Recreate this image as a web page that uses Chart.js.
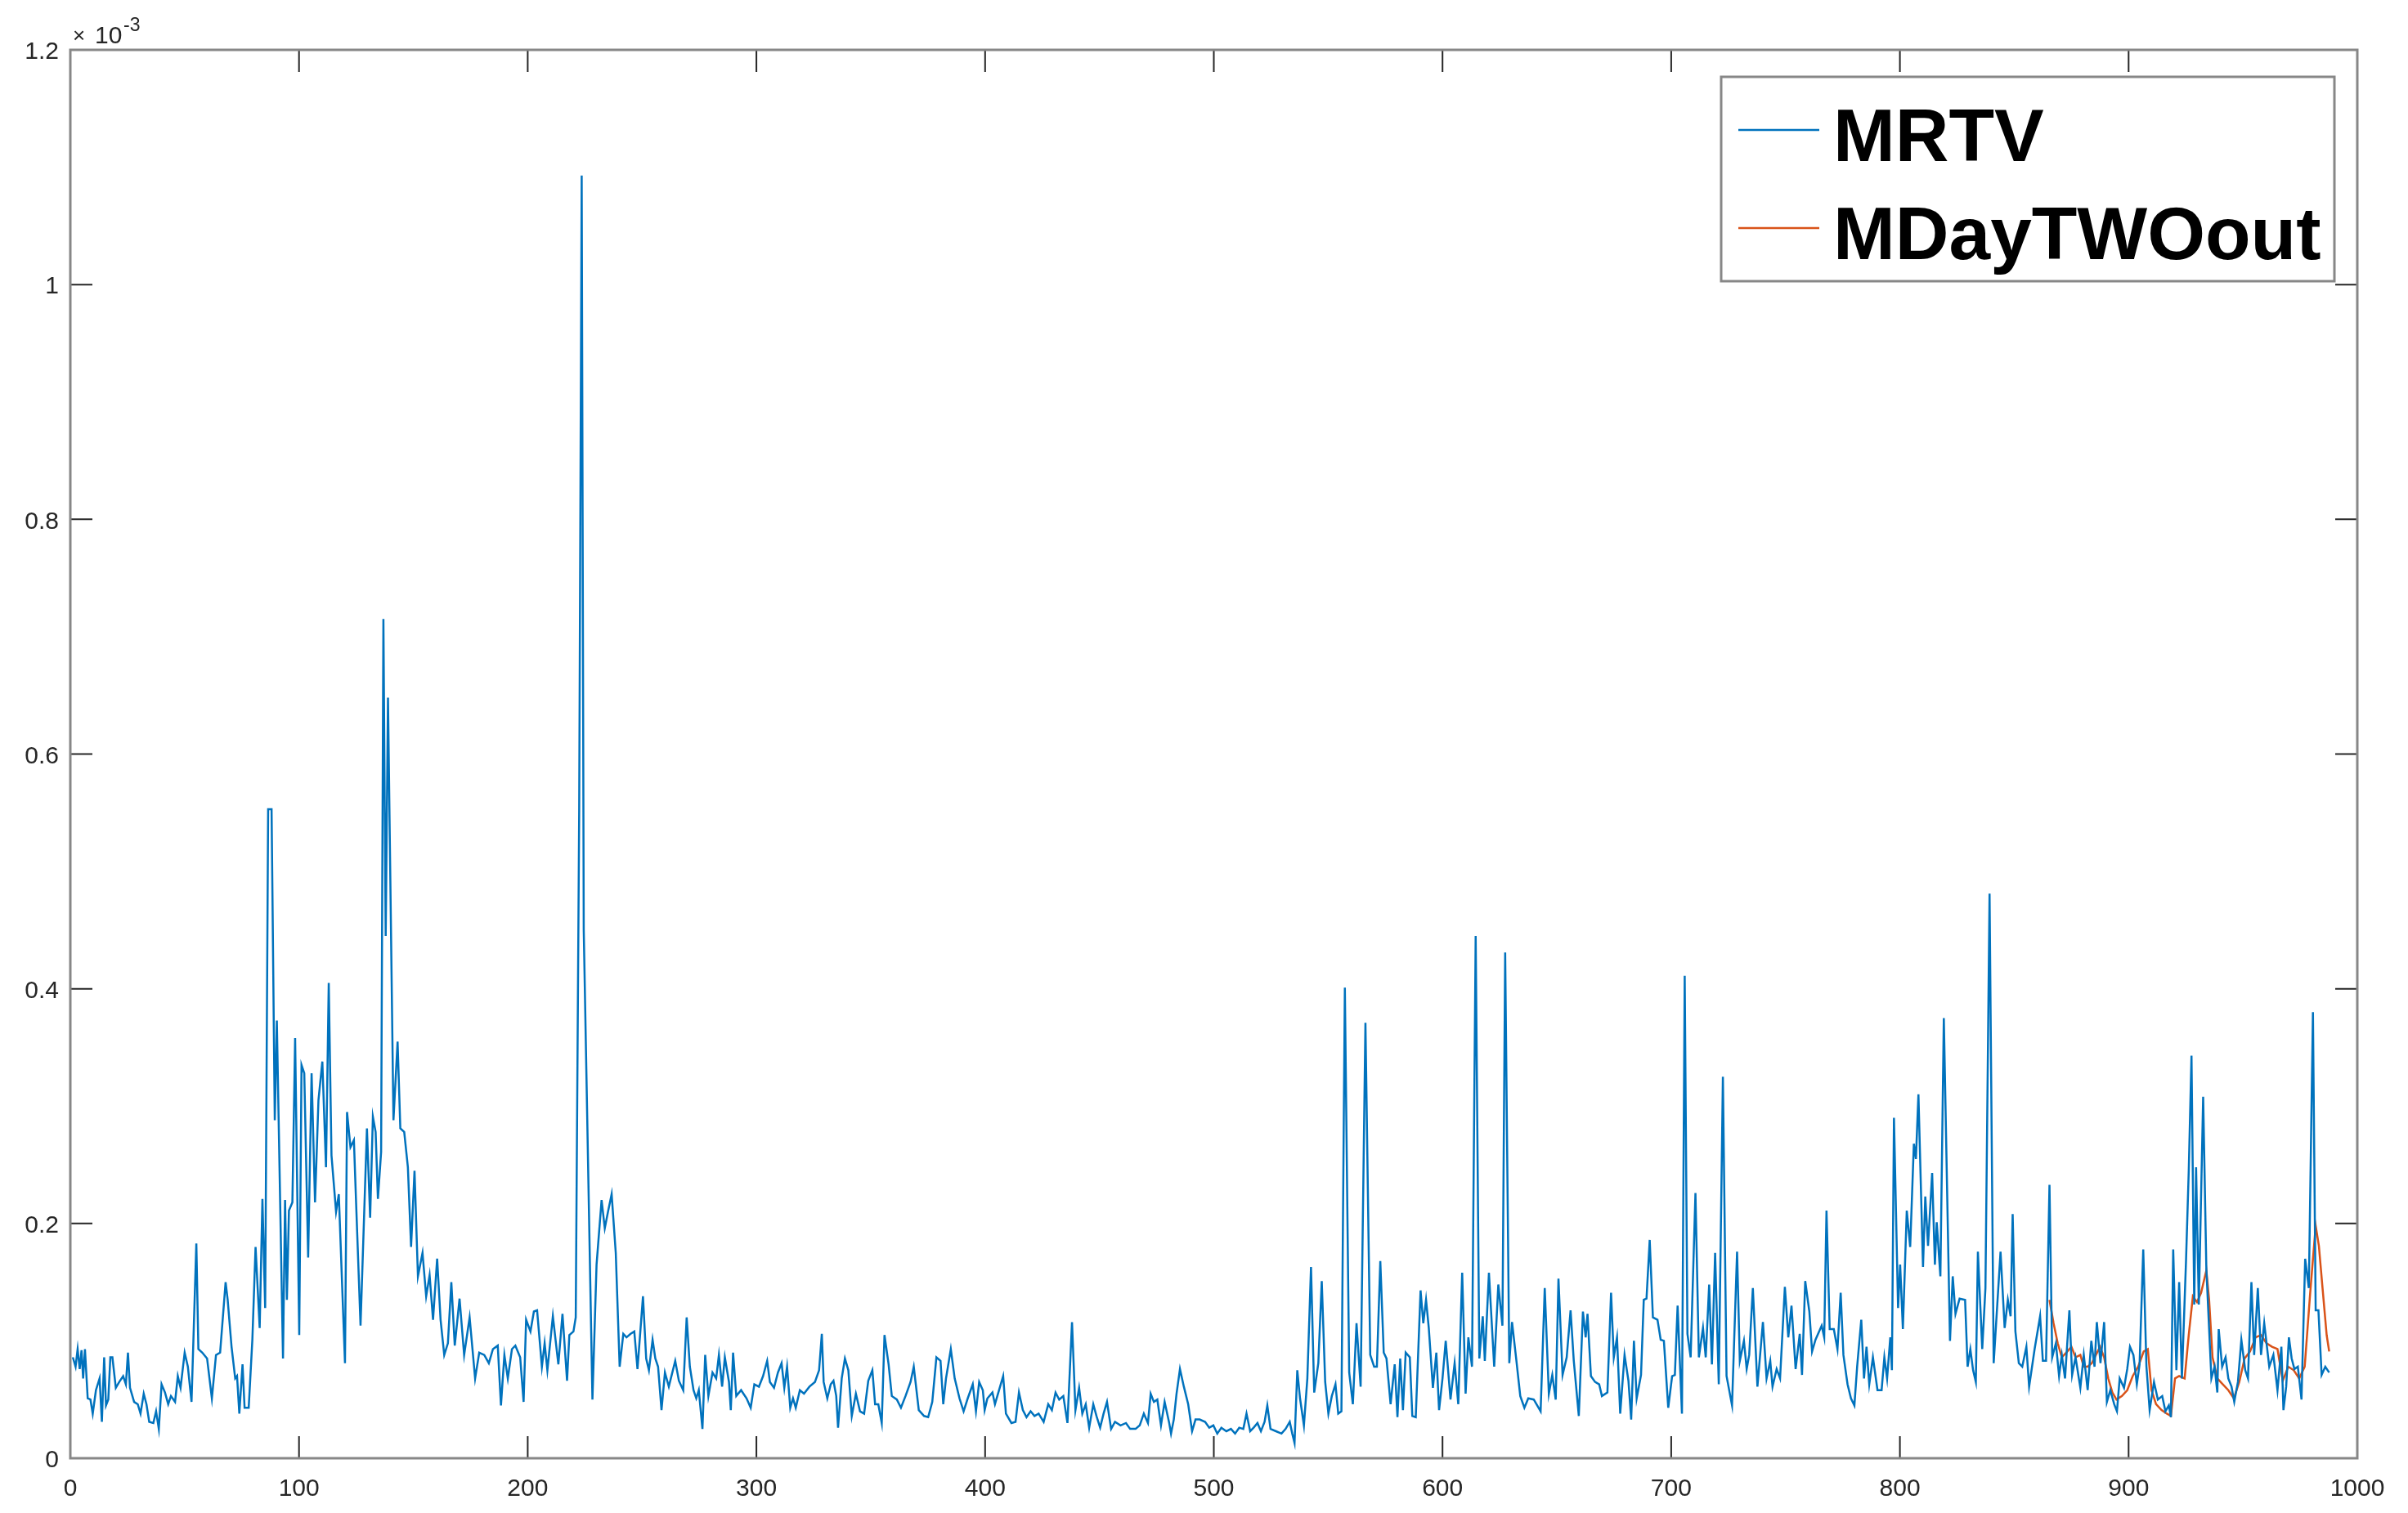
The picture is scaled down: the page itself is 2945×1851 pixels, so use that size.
<!DOCTYPE html>
<html>
<head>
<meta charset="utf-8">
<script src="https://cdn.jsdelivr.net/npm/chart.js@4.4.1/dist/chart.umd.min.js"></script>
<style>
html, body { margin: 0; padding: 0; background: #fff; }
#wrap { width: 2945px; height: 1851px; }
</style>
</head>
<body>
<div id="wrap"><canvas id="mrtvChart" width="2945" height="1851"></canvas></div>
<script>
// axis ticks
const xTicks = [0, 100, 200, 300, 400, 500, 600, 700, 800, 900, 1000];
const yTicks = [0, 0.2, 0.4, 0.6, 0.8, 1.0, 1.2];
const yTickLabels = ['0', '0.2', '0.4', '0.6', '0.8', '1', '1.2'];

// MRTV series (values in units of 1e-3)
const mrtvX = [
    1.1, 2.3, 3.2, 4.1, 4.9, 5.6, 6.4, 7.6, 8.8, 9.8,
    11.2, 12.8, 13.8, 14.8, 15.6, 16.6, 17.5, 18.4, 19.9, 21.4,
    23.1, 24.3, 25.2, 26.1, 27.9, 29.5, 30.7, 32.1, 33.3, 34.5,
    36.3, 37.5, 38.7, 39.9, 41.4, 42.8, 44.0, 45.8, 47.0, 48.2,
    50.0, 51.4, 53.0, 55.1, 56.0, 57.7, 59.8, 61.9, 63.7, 65.5,
    67.9, 68.8, 70.5, 72.1, 72.9, 73.9, 75.3, 76.2, 78.0, 79.6,
    81.0, 82.8, 84.0, 85.2, 86.5, 88.0, 89.4, 90.3, 93.0, 93.9,
    94.7, 95.6, 97.1, 98.3, 100.1, 101.1, 102.3, 104.0, 105.5, 107.0,
    108.5, 110.2, 111.8, 113.0, 114.2, 116.2, 117.4, 120.1, 121.0, 122.5,
    124.0, 124.9, 126.9, 129.7, 131.1, 132.3, 133.5, 134.5, 135.9, 136.9,
    137.9, 138.9, 141.3, 143.1, 144.3, 146.0, 147.6, 149.0, 150.5, 152.0,
    154.0, 155.6, 157.1, 158.6, 160.4, 161.9, 163.5, 165.1, 166.6, 168.1,
    170.2, 172.2, 174.6, 177.0, 178.8, 181.0, 183.0, 184.8, 186.9, 188.3,
    189.8, 191.3, 193.1, 194.6, 196.7, 198.2, 199.3, 201.2, 202.7, 204.1,
    206.2, 207.4, 208.6, 211.0, 213.4, 215.2, 217.2, 218.2, 220.0, 221.0,
    222.5, 223.6, 224.5, 228.3, 230.1, 232.3, 233.7, 235.1, 236.7, 238.5,
    240.2, 241.8, 243.2, 245.0, 246.6, 248.0, 250.4, 251.8, 253.0, 254.6,
    255.8, 257.0, 258.5, 260.0, 261.7, 264.5, 266.1, 268.0, 269.5, 270.9,
    272.5, 273.7, 274.8, 276.4, 277.6, 279.0, 280.8, 282.4, 283.6, 285.0,
    286.2, 288.0, 288.8, 289.8, 291.2, 293.3, 295.7, 297.5, 299.1, 301.1,
    302.9, 304.7, 305.9, 307.7, 309.4, 311.0, 312.2, 313.4, 314.8, 316.0,
    317.2, 319.0, 320.8, 323.2, 325.6, 327.4, 328.6, 329.4, 331.0, 332.5,
    333.7, 334.9, 335.7, 337.3, 338.7, 340.2, 341.7, 343.5, 345.3, 347.1,
    348.9, 350.7, 351.9, 353.3, 354.8, 356.0, 357.8, 359.2, 361.4, 363.2,
    365.2, 367.4, 368.8, 371.0, 373.3, 375.1, 376.9, 378.7, 380.5, 381.7,
    382.9, 385.0, 386.7, 388.8, 390.6, 392.4, 394.6, 396.0, 397.4, 399.0,
    399.8, 401.0, 403.2, 404.3, 406.1, 407.9, 409.1, 411.5, 413.3, 414.8,
    416.5, 418.1, 419.9, 421.6, 423.4, 425.6, 427.6, 429.2, 430.8, 432.4,
    434.2, 436.0, 438.0, 439.5, 441.1, 442.5, 444.0, 445.5, 447.3, 448.7,
    450.3, 451.8, 453.3, 455.1, 456.8, 459.2, 461.6, 463.4, 465.8, 467.6,
    469.4, 471.2, 472.4, 473.8, 475.3, 476.9, 478.5, 480.5, 481.3, 482.5,
    483.7, 485.2, 486.9, 488.8, 490.5, 492.0, 493.8, 496.2, 498.0, 499.8,
    501.5, 503.3, 505.5, 507.5, 509.3, 511.1, 512.9, 514.3, 515.9, 517.4,
    519.1, 520.6, 522.2, 523.4, 524.8, 527.2, 529.6, 531.4, 533.2, 534.3,
    535.3, 536.5, 537.7, 539.4, 540.9, 542.5, 543.9, 545.7, 547.2, 548.7,
    550.1, 551.6, 553.2, 554.4, 555.8, 557.3, 559.2, 560.8, 562.4, 564.2,
    566.3, 568.4, 570.1, 571.3, 572.8, 574.3, 575.5, 577.3, 579.1, 580.3,
    581.5, 582.7, 583.9, 585.7, 586.8, 588.3, 590.4, 591.6, 592.8, 594.0,
    595.8, 597.3, 598.5, 600.0, 601.4, 603.5, 605.3, 606.9, 608.6, 610.1,
    611.3, 612.9, 614.5, 616.1, 617.6, 618.5, 620.3, 622.6, 624.4, 626.2,
    627.4, 629.2, 630.4, 632.2, 634.0, 635.8, 637.5, 639.9, 642.9, 644.7,
    646.5, 648.0, 649.5, 650.7, 652.5, 654.3, 656.0, 657.4, 659.6, 661.4,
    662.6, 663.4, 664.9, 666.7, 668.5, 669.7, 672.1, 673.7, 674.9, 676.3,
    677.7, 679.6, 681.3, 682.5, 683.7, 684.9, 686.8, 688.0, 689.2, 690.6,
    692.0, 694.0, 695.4, 696.8, 698.7, 700.4, 701.6, 702.8, 704.7, 705.9,
    707.1, 708.5, 710.6, 712.1, 713.9, 715.1, 716.6, 717.8, 719.2, 720.8,
    722.6, 724.2, 726.6, 728.8, 730.0, 731.8, 733.0, 734.1, 735.7, 737.7,
    740.1, 741.7, 743.3, 744.3, 746.1, 747.6, 749.7, 751.2, 752.6, 754.4,
    756.2, 757.2, 758.6, 760.4, 761.6, 763.1, 765.8, 766.9, 767.9, 769.3,
    771.1, 772.7, 774.1, 775.3, 777.1, 778.6, 780.1, 781.3, 783.1, 784.3,
    785.4, 786.6, 788.2, 790.2, 792.0, 793.2, 794.4, 795.8, 796.5, 797.4,
    799.2, 800.1, 801.3, 803.0, 804.5, 806.1, 807.0, 808.1, 810.1, 811.1,
    812.3, 814.1, 815.3, 816.1, 817.7, 819.2, 821.9, 823.1, 824.3, 826.1,
    828.5, 829.6, 830.8, 832.0, 833.2, 834.1, 836.0, 837.4, 839.2, 841.0,
    844.0, 845.8, 847.2, 848.4, 849.3, 850.5, 852.0, 853.5, 855.3, 856.5,
    858.9, 861.3, 862.5, 863.9, 865.4, 866.6, 868.2, 869.6, 870.8, 872.2,
    874.1, 875.3, 876.8, 878.9, 880.4, 882.1, 883.7, 885.1, 886.1, 887.7,
    889.3, 890.5, 892.0, 893.7, 894.9, 896.1, 898.0, 899.4, 900.6, 902.1,
    903.6, 904.8, 906.4, 907.8, 909.2, 911.1, 912.8, 914.7, 916.1, 917.6,
    918.5, 919.5, 920.9, 922.1, 923.3, 925.1, 926.3, 927.5, 928.7, 929.5,
    930.7, 932.6, 934.0, 936.2, 937.6, 938.8, 939.4, 940.9, 942.4, 943.6,
    945.0, 946.2, 947.8, 949.3, 951.0, 952.2, 953.7, 954.9, 956.5, 957.9,
    959.3, 961.5, 963.3, 965.1, 966.8, 967.7, 968.9, 970.1, 971.3, 972.5,
    974.0, 975.6, 977.2, 978.8, 980.6, 981.8, 983.0, 984.4, 986.0, 987.7
];
const mrtvY = [
    .086, .078, .093, .076, .092, .068, .093, .051, .050, .038,
    .058, .068, .031, .086, .045, .050, .086, .086, .060, .065,
    .070, .063, .090, .060, .048, .046, .038, .055, .046, .031,
    .030, .040, .025, .063, .056, .046, .053, .048, .070, .060,
    .090, .078, .048, .183, .093, .090, .085, .051, .088, .090,
    .150, .135, .095, .068, .070, .038, .080, .043, .043, .101,
    .180, .111, .221, .128, .553, .553, .288, .373, .085, .220,
    .135, .211, .218, .358, .105, .335, .328, .171, .328, .218,
    .305, .338, .248, .405, .258, .210, .225, .081, .295, .265,
    .271, .221, .113, .281, .205, .291, .278, .221, .261, .715,
    .445, .648, .288, .355, .281, .278, .248, .180, .245, .155,
    .175, .138, .156, .118, .170, .118, .088, .098, .150, .096,
    .136, .088, .120, .068, .090, .088, .081, .093, .096, .045,
    .088, .068, .093, .096, .086, .048, .118, .108, .125, .126,
    .078, .098, .075, .121, .080, .123, .066, .105, .108, .120,
    .550, 1.093, .450, .050, .165, .220, .196, .210, .225, .175,
    .078, .106, .103, .106, .108, .076, .138, .085, .075, .101,
    .085, .078, .041, .073, .061, .083, .066, .058, .120, .078,
    .058, .051, .058, .025, .088, .053, .073, .068, .088, .061,
    .086, .065, .041, .090, .053, .058, .051, .043, .063, .061,
    .070, .083, .065, .060, .073, .081, .060, .078, .043, .051,
    .043, .058, .055, .061, .065, .075, .106, .065, .051, .063,
    .066, .053, .026, .068, .085, .075, .036, .055, .040, .038,
    .066, .075, .046, .046, .030, .105, .080, .053, .050, .043,
    .053, .065, .078, .041, .036, .035, .048, .086, .083, .046,
    .068, .093, .068, .051, .040, .051, .063, .040, .065, .058,
    .041, .051, .056, .046, .058, .070, .038, .030, .031, .056,
    .041, .035, .040, .036, .038, .031, .046, .041, .056, .050,
    .053, .030, .116, .041, .060, .038, .046, .026, .046, .036,
    .026, .038, .048, .025, .031, .028, .030, .025, .025, .028,
    .038, .030, .055, .048, .050, .028, .048, .030, .021, .033,
    .055, .076, .061, .046, .023, .033, .033, .031, .026, .028,
    .021, .026, .023, .025, .021, .026, .025, .038, .023, .026,
    .030, .023, .031, .045, .025, .023, .021, .025, .031, .021,
    .013, .075, .051, .028, .068, .163, .056, .081, .151, .065,
    .038, .053, .063, .038, .040, .401, .073, .046, .115, .061,
    .371, .088, .078, .078, .168, .090, .085, .046, .080, .035,
    .085, .041, .090, .086, .036, .035, .143, .115, .135, .111,
    .060, .090, .041, .068, .100, .050, .081, .046, .158, .055,
    .103, .078, .445, .085, .121, .083, .158, .078, .148, .113,
    .431, .081, .116, .085, .053, .043, .051, .050, .040, .145,
    .055, .071, .050, .153, .071, .086, .126, .083, .036, .125,
    .103, .123, .070, .065, .063, .053, .056, .141, .086, .103,
    .038, .088, .066, .033, .100, .051, .071, .135, .136, .186,
    .120, .118, .101, .100, .043, .070, .071, .130, .038, .411,
    .106, .086, .226, .086, .111, .086, .148, .080, .175, .063,
    .325, .070, .045, .176, .083, .100, .076, .088, .145, .061,
    .116, .068, .083, .061, .076, .068, .146, .103, .130, .076,
    .106, .071, .151, .125, .091, .101, .113, .103, .211, .110,
    .110, .093, .141, .088, .063, .051, .045, .078, .118, .068,
    .095, .063, .086, .058, .058, .086, .068, .103, .075, .290,
    .128, .165, .110, .211, .180, .268, .255, .310, .163, .223,
    .181, .243, .165, .201, .155, .375, .100, .155, .123, .136,
    .135, .078, .093, .075, .065, .176, .093, .145, .481, .081,
    .176, .111, .135, .121, .208, .108, .081, .078, .095, .061,
    .093, .121, .083, .083, .233, .086, .098, .070, .088, .068,
    .126, .071, .086, .060, .088, .058, .100, .078, .116, .081,
    .116, .048, .058, .046, .040, .068, .060, .076, .095, .088,
    .063, .080, .178, .078, .041, .065, .050, .053, .040, .045,
    .035, .178, .075, .150, .068, .168, .245, .343, .131, .248,
    .131, .308, .161, .068, .078, .056, .110, .078, .086, .068,
    .061, .048, .065, .101, .075, .068, .150, .088, .145, .088,
    .115, .078, .088, .058, .095, .041, .061, .103, .085, .076,
    .078, .050, .170, .145, .380, .126, .126, .071, .078, .073
];

// MDayTWOout series (only the last stretch)
const outX = [
    865.4, 867.2, 869.0, 870.8, 873.2, 875.0, 876.8, 878.9, 880.4, 882.1,
    883.9, 885.7, 887.5, 889.3, 891.1, 892.9, 894.7, 897.1, 899.4, 901.8,
    904.2, 906.6, 908.4, 910.0, 912.0, 914.4, 916.7, 918.5, 920.3, 922.1,
    924.5, 926.3, 928.1, 929.9, 931.7, 934.0, 935.2, 936.7, 938.8, 941.2,
    943.6, 946.0, 948.4, 950.7, 953.1, 955.5, 957.9, 960.3, 962.7, 965.1,
    967.4, 969.8, 972.2, 974.6, 977.0, 979.4, 981.8, 983.2, 984.8, 986.6,
    987.7
];
const outY = [
    .135, .115, .098, .086, .091, .095, .086, .088, .078, .078,
    .081, .088, .095, .086, .068, .056, .050, .053, .058, .070,
    .078, .091, .093, .058, .046, .041, .038, .036, .068, .070,
    .068, .105, .138, .133, .141, .160, .135, .086, .068, .063,
    .058, .051, .065, .085, .091, .103, .105, .098, .095, .093,
    .066, .078, .075, .068, .078, .141, .198, .181, .145, .105,
    .091
];

function toPoints(xs, ys) {
    return xs.map(function (x, i) { return { x: x, y: ys[i] }; });
}

const FONT = "'Liberation Sans', Arial, sans-serif";

// MATLAB style box, inward ticks, exponent and legend
const matlabFrame = {
    id: 'matlabFrame',
    afterDatasetsDraw: function (chart) {
        const ctx = chart.ctx;
        const a = chart.chartArea;
        const sx = chart.scales.x;
        const sy = chart.scales.y;
        const tl = 27;
        ctx.save();

        ctx.strokeStyle = '#262626';
        ctx.lineWidth = 2;
        ctx.beginPath();
        xTicks.forEach(function (v) {
            const px = sx.getPixelForValue(v);
            ctx.moveTo(px, a.bottom); ctx.lineTo(px, a.bottom - tl);
            ctx.moveTo(px, a.top); ctx.lineTo(px, a.top + tl);
        });
        yTicks.forEach(function (v) {
            const py = sy.getPixelForValue(v);
            ctx.moveTo(a.left, py); ctx.lineTo(a.left + tl, py);
            ctx.moveTo(a.right, py); ctx.lineTo(a.right - tl, py);
        });
        ctx.stroke();

        ctx.strokeStyle = '#878787';
        ctx.lineWidth = 3;
        ctx.strokeRect(a.left, a.top, a.right - a.left, a.bottom - a.top);

        // x10^-3 above the y axis
        ctx.fillStyle = '#262626';
        ctx.textBaseline = 'alphabetic';
        ctx.textAlign = 'left';
        ctx.font = '26px ' + FONT;
        ctx.fillText('\u00d7', a.left + 3, a.top - 9);
        ctx.font = '30px ' + FONT;
        ctx.fillText('10', a.left + 30, a.top - 8);
        ctx.font = '23px ' + FONT;
        ctx.fillText('-3', a.left + 65, a.top - 23);

        // legend box
        const lx = 2105, ly = 94, lw = 750, lh = 250;
        ctx.fillStyle = '#ffffff';
        ctx.fillRect(lx, ly, lw, lh);
        ctx.strokeStyle = '#878787';
        ctx.lineWidth = 3;
        ctx.strokeRect(lx, ly, lw, lh);
        chart.data.datasets.forEach(function (ds, i) {
            const yy = 159 + i * 120;
            ctx.strokeStyle = ds.borderColor;
            ctx.lineWidth = 2.5;
            ctx.beginPath();
            ctx.moveTo(lx + 21, yy); ctx.lineTo(lx + 120, yy);
            ctx.stroke();
            ctx.fillStyle = '#000000';
            ctx.font = 'bold 91px ' + FONT;
            ctx.fillText(ds.label, 2242, yy + 38);
        });
        ctx.restore();
    }
};

const ctx = document.getElementById('mrtvChart').getContext('2d');
const mrtvChart = new Chart(ctx, {
    type: 'line',
    data: {
        datasets: [{
            label: 'MRTV',
            data: toPoints(mrtvX, mrtvY),
            borderColor: '#0072BD',
            borderWidth: 2.5,
            pointRadius: 0,
            tension: 0,
            fill: false
        }, {
            label: 'MDayTWOout',
            data: toPoints(outX, outY),
            borderColor: '#D95319',
            borderWidth: 2.5,
            pointRadius: 0,
            tension: 0,
            fill: false
        }]
    },
    options: {
        responsive: false,
        animation: false,
        devicePixelRatio: 1,
        layout: { padding: { left: 0, right: 62, top: 61, bottom: 0 } },
        plugins: {
            legend: { display: false },
            tooltip: { enabled: false }
        },
        scales: {
            x: {
                type: 'linear',
                min: 0,
                max: 1000,
                afterBuildTicks: function (scale) {
                    scale.ticks = xTicks.map(function (v) { return { value: v }; });
                },
                afterFit: function (scale) { scale.height = 67; },
                grid: { display: false, drawTicks: false },
                border: { display: false },
                ticks: {
                    padding: 20,
                    maxRotation: 0,
                    autoSkip: false,
                    color: '#262626',
                    font: { family: FONT, size: 30 },
                    callback: function (v) { return String(v); }
                }
            },
            y: {
                type: 'linear',
                min: 0,
                max: 1.2,
                afterBuildTicks: function (scale) {
                    scale.ticks = yTicks.map(function (v) { return { value: v }; });
                },
                afterFit: function (scale) { scale.width = 86; },
                grid: { display: false, drawTicks: false },
                border: { display: false },
                ticks: {
                    padding: 14,
                    labelOffset: 3,
                    autoSkip: false,
                    color: '#262626',
                    font: { family: FONT, size: 30 },
                    callback: function (v, i) { return yTickLabels[i]; }
                }
            }
        }
    },
    plugins: [matlabFrame]
});
</script>
</body>
</html>
